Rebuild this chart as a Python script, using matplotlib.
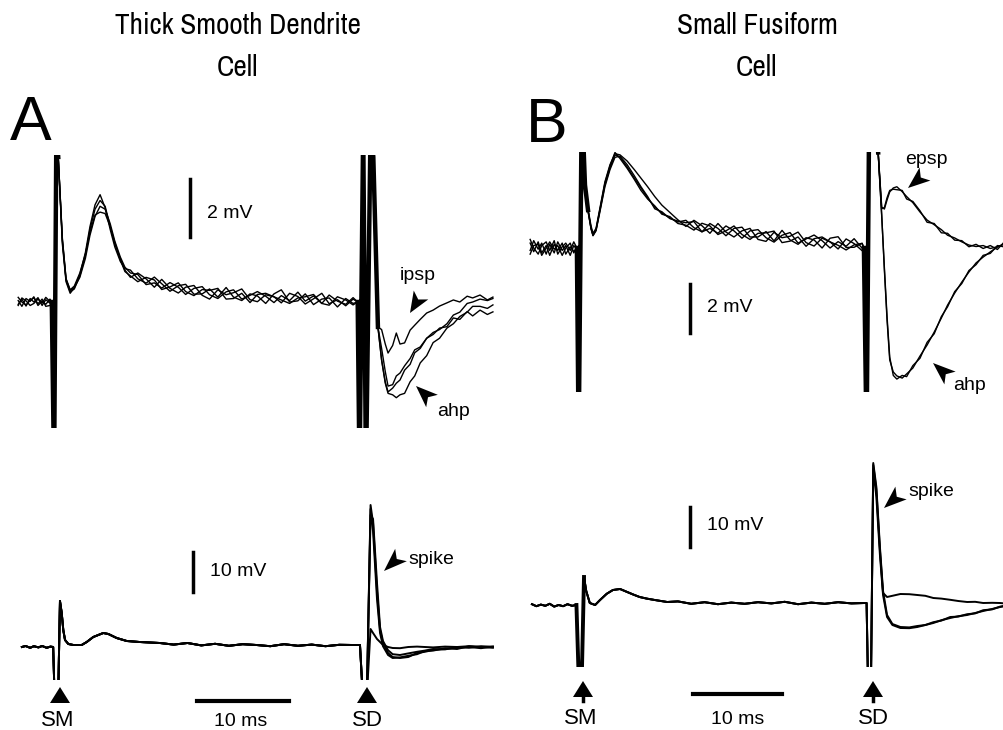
import numpy as np
import matplotlib.pyplot as plt
from matplotlib.patches import Polygon

W, H = 1004, 730

# ---------------- panel A, upper traces (time ms, voltage mV) ----------------
a_top_pre_t = [-4.0, -3.6, -3.15, -2.7, -2.3, -1.85, -1.4, -1.0, -0.55, -0.35]
a_top_pre_v = [
    [0.05, -0.15, 0.12, 0.02, 0.18, -0.12, 0.03, -0.08, 0.10, 0.0],
    [-0.08, 0.10, -0.14, 0.12, 0.0, 0.15, -0.12, 0.08, -0.04, 0.0],
    [0.16, 0.0, -0.10, 0.06, 0.14, -0.06, 0.10, -0.15, -0.12, 0.0],
    [-0.12, 0.14, 0.04, -0.12, -0.05, 0.10, -0.04, 0.16, 0.02, 0.0],
]
a_top_sm_t = [-0.1, 0.15]
a_top_sm_v = [-6.0, 6.0]
a_top_early_t = [0.35, 0.8, 1.2, 1.65, 2.1, 2.7, 3.3, 3.8, 4.35, 4.9, 5.45, 6.0, 6.5, 7.1, 7.6]
a_top_early_v = [
    [5.0, 2.2, 0.8, 0.4, 0.5, 0.95, 1.7, 2.6, 3.35, 3.7, 3.25, 2.5, 1.9, 1.4, 1.15],
    [5.0, 2.1, 0.75, 0.35, 0.45, 0.9, 1.6, 2.5, 3.2, 3.5, 3.3, 2.6, 2.0, 1.5, 1.1],
    [5.0, 2.0, 0.7, 0.3, 0.5, 0.85, 1.5, 2.3, 2.95, 3.3, 3.2, 2.7, 2.1, 1.55, 1.2],
    [5.0, 2.15, 0.8, 0.42, 0.55, 1.0, 1.65, 2.4, 3.0, 3.1, 3.05, 2.6, 2.05, 1.45, 1.05],
]
a_top_decay_t = [8.2, 9.0, 9.9, 10.8, 11.6, 12.5, 13.4, 14.2, 15.1, 16.0, 16.8, 17.7, 18.6, 19.4,
                 20.3, 21.2, 22.0, 22.9, 23.8, 24.6, 25.5, 26.4, 27.2, 28.1, 29.0, 29.8, 30.7,
                 31.6, 32.4]
a_top_decay_v = [
    [1.10, 0.80, 0.65, 0.86, 0.63, 0.37, 0.56, 0.61, 0.27, 0.28, 0.45, 0.17, 0.50, 0.17, 0.05,
     0.28, 0.21, -0.05, 0.28, 0.42, 0.0, 0.04, 0.28, -0.09, 0.10, 0.14, -0.17, 0.12, -0.05],
    [0.85, 1.0, 0.80, 0.51, 0.78, 0.47, 0.31, 0.51, 0.57, 0.23, 0.10, 0.42, 0.25, 0.32, 0.45,
     0.08, 0.01, 0.25, 0.18, -0.03, 0.30, 0.19, -0.07, 0.11, 0.30, -0.06, 0.08, -0.13, 0.10],
    [1.0, 0.95, 0.60, 0.66, 0.48, 0.67, 0.51, 0.26, 0.47, 0.53, 0.25, 0.12, 0.35, 0.42, 0.10,
     0.23, 0.36, 0.20, -0.02, 0.22, 0.05, 0.34, 0.03, 0.21, -0.05, -0.11, 0.18, 0.07, -0.10],
    [0.90, 0.70, 0.85, 0.76, 0.43, 0.52, 0.66, 0.36, 0.22, 0.43, 0.40, 0.47, 0.10, 0.12, 0.30,
     -0.02, 0.26, 0.30, 0.18, 0.07, -0.05, 0.14, 0.18, 0.26, -0.05, 0.24, 0.03, -0.08, 0.15],
]
a_top_sd_t = [32.9, 33.1, 33.5, 33.8, 34.3, 34.6, 35.1]
a_top_sd_v = [0.0, -6.0, 6.0, -6.0, 6.0, 5.0, -0.86]
a_top_post_t = [35.5, 35.9, 36.2, 36.7, 37.1, 37.5, 38.0, 38.6, 39.1, 39.7, 40.4, 41.1, 41.8,
                42.6, 43.3, 44.0, 44.8, 45.4, 46.2, 47.0, 47.6]
a_top_post_v = [
    [-0.95, -1.45, -1.76, -1.5, -1.07, -1.45, -1.41, -0.97, -0.8, -0.6, -0.38, -0.28, -0.14,
     -0.03, 0.07, 0.0, 0.2, 0.14, 0.24, 0.07, 0.17],
    [-2.0, -2.76, -3.1, -2.97, -2.8, -2.69, -2.35, -2.15, -1.75, -1.6, -1.25, -1.12, -0.9,
     -0.85, -0.55, -0.6, -0.33, -0.48, -0.28, -0.43, -0.34],
    [-2.0, -2.8, -3.15, -3.2, -3.3, -3.2, -3.15, -2.75, -2.55, -2.1, -1.85, -1.4, -1.25, -0.9,
     -0.75, -0.5, -0.35, -0.15, -0.15, -0.22, -0.1],
    [-1.6, -2.4, -2.9, -2.85, -2.55, -2.45, -2.2, -1.95, -1.65, -1.55, -1.25, -1.05, -0.95, -0.75,
     -0.45, -0.35, -0.05, 0.0, 0.1, 0.05, 0.12],
]

# ---------------- panel A, lower traces ----------------
a_bot_pre_t = [-3.6, -3.2, -2.7, -2.3, -1.8, -1.4, -0.9, -0.5, -0.2]
a_bot_pre_v = [0.0, 0.25, -0.2, 0.2, -0.1, 0.25, -0.2, 0.1, 0.0]
a_bot_sm_t = [-0.05, 0.35]
a_bot_sm_v = [-12.0, -12.0]
a_bot_early_t = [0.54, 0.73, 0.9, 1.09, 1.45, 2.0, 2.9, 3.45, 4.16, 5.25, 5.8, 6.7, 7.8, 9.2, 11.4]
a_bot_early_v = [11.5, 8.5, 4.25, 1.75, 0.75, 0.5, 0.5, 1.25, 2.5, 3.5, 3.25, 2.25, 1.5, 1.25, 1.0]
a_bot_mid_t = [12.9, 14.4, 15.9, 17.4, 18.9, 20.4, 21.9, 23.4, 24.9, 26.4, 27.9, 29.4, 30.9, 32.4]
a_bot_mid_v = [0.6, 1.0, 0.4, 0.8, 0.3, 0.7, 0.5, 0.2, 0.7, 0.3, 0.6, 0.2, 0.55, 0.5]
a_bot_sd_t = [33.15, 33.45, 33.9]
a_bot_sd_v = [0.5, -12.0, -12.0]
a_bot_post_t = [34.3, 34.57, 35.0, 35.33, 35.65, 36.2, 36.7, 37.5, 38.4, 39.35, 40.2, 41.1,
                42.4, 43.7, 45.0, 46.3, 47.6]
a_bot_post_v = [
    [35.5, 31.0, 14.0, 4.25, 1.0, -1.5, -2.5, -2.75, -2.5, -1.5, -1.2, -0.75, -0.5, -0.2, 0.0, -0.3, 0.1],
    [34.5, 29.0, 12.0, 3.5, 0.2, -2.0, -2.75, -2.6, -2.2, -1.8, -1.0, -0.9, -0.3, -0.5, 0.2, 0.0, -0.2],
    [33.0, 32.0, 16.0, 5.0, 1.5, -0.8, -1.8, -2.0, -1.6, -1.2, -0.9, -0.5, -0.6, 0.0, -0.2, 0.2, 0.0],
    [4.5, 3.5, 2.0, 1.25, 0.5, 0.0, -0.25, -0.3, 0.0, 0.1, 0.0, -0.1, 0.1, 0.0, 0.2, 0.0, 0.1],
]

# ---------------- panel B, upper traces ----------------
b_top_pre_t = [-5.6, -5.2, -4.7, -4.3, -3.8, -3.4, -2.9, -2.5, -2.0, -1.6, -1.1, -0.7, -0.35]
b_top_pre_v = [
    [0.2, -0.15, 0.25, -0.2, 0.1, -0.3, 0.15, -0.1, 0.2, -0.25, 0.05, -0.15, 0.0],
    [-0.1, 0.3, -0.05, 0.2, -0.25, 0.15, -0.2, 0.25, -0.1, 0.1, -0.3, 0.1, -0.05],
    [0.35, 0.0, -0.25, 0.1, 0.25, -0.1, 0.3, -0.25, 0.05, 0.2, -0.1, 0.25, 0.0],
    [-0.25, 0.1, 0.15, -0.3, 0.0, 0.25, -0.05, 0.1, -0.3, 0.0, 0.2, -0.2, 0.05],
]
b_top_sm_t = [-0.15, 0.2]
b_top_sm_v = [-8.0, 6.0]
b_top_early_t = [0.56, 0.9, 1.24, 1.46, 1.8, 2.25, 2.8, 3.37, 3.93, 4.5, 5.3, 6.1, 6.85, 7.6,
                 8.4, 9.2, 10.1, 11.0]
b_top_early_v = [
    [2.57, 1.55, 0.82, 0.53, 0.73, 1.55, 2.57, 3.27, 3.8, 3.71, 3.31, 2.86, 2.45, 2.04, 1.67, 1.43, 1.22, 1.06],
    [2.6, 1.6, 0.9, 0.6, 0.8, 1.65, 2.7, 3.4, 3.85, 3.8, 3.55, 3.2, 2.85, 2.5, 2.1, 1.75, 1.45, 1.15],
    [2.5, 1.5, 0.78, 0.5, 0.7, 1.5, 2.5, 3.2, 3.7, 3.75, 3.4, 2.95, 2.5, 2.1, 1.6, 1.48, 1.2, 1.1],
    [2.55, 1.52, 0.8, 0.52, 0.75, 1.6, 2.65, 3.35, 3.9, 3.65, 3.25, 2.8, 2.35, 2.0, 1.72, 1.38, 1.28, 1.0],
]
b_top_decay_t = [11.9, 12.8, 13.7, 14.6, 15.5, 16.4, 17.3, 18.2, 19.1, 20.0, 20.9, 21.8, 22.7,
                 23.6, 24.5, 25.4, 26.3, 27.2, 28.1, 29.0, 29.9, 30.8, 31.7]
b_top_decay_v = [
    [1.13, 0.83, 0.66, 1.0, 0.80, 0.50, 0.80, 0.85, 0.45, 0.45, 0.67, 0.29, 0.72, 0.33, 0.15,
     0.42, 0.33, 0.0, 0.40, 0.46, 0.02, 0.03, 0.19],
    [0.88, 1.13, 0.91, 0.60, 1.0, 0.65, 0.45, 0.70, 0.80, 0.35, 0.27, 0.64, 0.42, 0.48, 0.65,
     0.22, 0.08, 0.40, 0.25, -0.04, 0.37, 0.18, -0.11],
    [1.03, 1.08, 0.66, 0.80, 0.60, 0.90, 0.70, 0.40, 0.70, 0.75, 0.42, 0.24, 0.52, 0.63, 0.20,
     0.37, 0.53, 0.30, 0.0, 0.26, 0.07, 0.38, -0.01],
    [0.93, 0.73, 1.01, 0.90, 0.55, 0.70, 0.90, 0.55, 0.35, 0.60, 0.62, 0.69, 0.22, 0.28, 0.45,
     0.07, 0.38, 0.45, 0.25, 0.11, -0.08, 0.13, 0.19],
]
b_top_sd_t = [31.9, 32.2, 32.5, 33.2, 33.5]
b_top_sd_v = [0.0, -8.0, 6.0, 6.0, 3.9]
b_top_post_t = [33.9, 34.2, 34.5, 34.8, 35.2, 35.6, 36.2, 36.7, 37.4, 38.2, 39.0, 39.8, 40.6,
                41.3, 42.1, 42.9, 43.7, 44.5, 45.3, 46.1, 46.9, 47.6]
b_top_post_v = [
    [1.67, 1.59, 1.96, 2.29, 2.45, 2.5, 2.3, 2.1, 1.85, 1.47, 1.14, 0.95, 0.75, 0.52, 0.41, 0.25,
     0.12, 0.06, 0.1, -0.02, 0.05, 0.15],
    [1.6, 1.65, 2.05, 2.35, 2.4, 2.38, 2.35, 2.0, 1.9, 1.52, 1.05, 1.0, 0.62, 0.6, 0.32, 0.3,
     0.05, 0.15, -0.02, 0.1, -0.06, 0.22],
    [1.35, -0.9, -2.94, -4.57, -5.06, -5.22, -5.31, -5.14, -4.9, -4.41, -3.96, -3.43, -2.86,
     -2.33, -1.84, -1.39, -0.98, -0.61, -0.37, -0.16, 0.04, 0.16],
    [1.3, -0.8, -2.8, -4.45, -5.2, -5.35, -5.2, -5.25, -4.8, -4.5, -3.85, -3.5, -2.8, -2.4,
     -1.78, -1.45, -0.92, -0.68, -0.3, -0.22, 0.1, 0.05],
]

# ---------------- panel B, lower traces ----------------
b_bot_pre_t = [-5.4, -4.9, -4.4, -3.9, -3.4, -2.9, -2.4, -1.9, -1.4, -0.9, -0.4]
b_bot_pre_v = [0.2, -0.3, 0.1, -0.2, 0.3, -0.4, 0.0, -0.3, 0.2, -0.2, 0.0]
b_bot_sm_t = [-0.15, 0.2]
b_bot_sm_v = [-18.0, -18.0]
b_bot_early_t = [0.45, 0.7, 1.1, 1.7, 2.25, 3.0, 3.7, 4.5, 5.3, 6.0, 6.7, 7.5, 8.4, 9.8]
b_bot_early_v = [7.0, 3.5, 0.5, 0.0, 1.25, 2.8, 3.75, 4.0, 3.25, 2.6, 2.0, 1.6, 1.25, 0.75]
b_bot_mid_t = [11.0, 12.5, 14.0, 15.5, 17.0, 18.5, 20.0, 21.5, 23.0, 24.5, 26.0, 27.5, 29.0, 30.5, 32.0]
b_bot_mid_v = [0.9, 0.3, 0.7, 0.2, 0.6, 0.3, 0.7, 0.4, 0.8, 0.2, 0.6, 0.3, 0.7, 0.4, 0.5]
b_bot_sd_t = [32.2, 32.35, 32.7]
b_bot_sd_v = [0.5, -18.0, -18.0]
b_bot_post_t = [32.95, 33.3, 33.7, 34.05, 34.5, 35.1, 36.0, 37.0, 37.9, 38.8, 39.7, 40.6, 41.6,
                42.5, 43.5, 44.4, 45.3, 46.3, 47.2, 47.7]
b_bot_post_v = [
    [35.0, 28.75, 13.75, 3.0, 2.0, 2.3, 2.75, 2.7, 2.5, 2.3, 1.75, 1.6, 1.3, 1.0, 0.75, 0.8, 0.5, 0.55, 0.5, 0.4],
    [34.0, 27.0, 12.5, 2.5, -3.0, -5.0, -5.75, -5.8, -5.5, -5.0, -4.5, -3.8, -3.25, -2.8, -2.5, -2.0, -1.5, -1.0, -0.5, -0.3],
    [35.5, 29.5, 14.5, 3.5, -2.5, -4.75, -5.5, -5.6, -5.25, -5.0, -4.3, -3.9, -3.0, -2.9, -2.3, -2.1, -1.3, -1.1, -0.4, -0.2],
]

fig = plt.figure(figsize=(W / 100, H / 100), dpi=100)
fig.patch.set_facecolor('white')


def panel(x0, x1, ytop, ybot, t0, px_ms, base, px_mv):
    ax = fig.add_axes([x0 / W, 1 - ybot / H, (x1 - x0) / W, (ybot - ytop) / H])
    ax.set_xlim((x0 - t0) / px_ms, (x1 - t0) / px_ms)
    ax.set_ylim((base - ybot) / px_mv, (base - ytop) / px_mv)
    ax.axis('off')
    ax.patch.set_alpha(0)
    return ax


ax_at = panel(0, 500, 155, 428, 55, 9.2, 302, 29)
ax_ab = panel(0, 500, 470, 680, 55, 9.2, 647, 4)
ax_bt = panel(500, 1004, 152, 392, 580, 8.9, 248, 24.5)
ax_bb = panel(500, 1004, 440, 667, 580, 8.9, 605, 4)

# upper traces A
for i in range(4):
    t = a_top_pre_t + a_top_sm_t + a_top_early_t + a_top_decay_t + a_top_sd_t + a_top_post_t
    v = a_top_pre_v[i] + a_top_sm_v + a_top_early_v[i] + a_top_decay_v[i] + a_top_sd_v + a_top_post_v[i]
    ax_at.plot(t, v, color='k', lw=1.0)
ax_at.plot(a_top_pre_t[-1:] + a_top_sm_t + a_top_early_t[:1], [0.0] + a_top_sm_v + [5.0], color='k', lw=3.2)
ax_at.plot(a_top_sd_t, a_top_sd_v, color='k', lw=3.2)

# upper traces B
for i in range(4):
    t = b_top_pre_t + b_top_sm_t + b_top_early_t + b_top_decay_t + b_top_sd_t + b_top_post_t
    v = b_top_pre_v[i] + b_top_sm_v + b_top_early_v[i] + b_top_decay_v[i] + b_top_sd_v + b_top_post_v[i]
    ax_bt.plot(t, v, color='k', lw=1.0)
ax_bt.plot(b_top_pre_t[-1:] + b_top_sm_t + b_top_early_t[:2], [0.0] + b_top_sm_v + b_top_early_v[0][:2], color='k', lw=3.2)
ax_bt.plot(b_top_sd_t, b_top_sd_v, color='k', lw=3.2)

# lower traces A
for i in range(4):
    t = a_bot_pre_t + a_bot_sm_t + a_bot_early_t + a_bot_mid_t + a_bot_sd_t + a_bot_post_t
    v = a_bot_pre_v + a_bot_sm_v + a_bot_early_v + a_bot_mid_v + a_bot_sd_v + a_bot_post_v[i]
    ax_ab.plot(t, v, color='k', lw=1.4)

# lower traces B
for i in range(3):
    t = b_bot_pre_t + b_bot_sm_t + b_bot_early_t + b_bot_mid_t + b_bot_sd_t + b_bot_post_t
    v = b_bot_pre_v + b_bot_sm_v + b_bot_early_v + b_bot_mid_v + b_bot_sd_v + b_bot_post_v[i]
    ax_bb.plot(t, v, color='k', lw=1.4)
ax_bb.plot(b_bot_pre_t[-1:] + b_bot_sm_t + b_bot_early_t[:1], [0.0] + b_bot_sm_v + b_bot_early_v[:1], color='k', lw=2.8)

# scale bars (mV vertical, ms horizontal)
ax_at.plot([14.67, 14.67], [2.24, 4.24], color='k', lw=2.5, clip_on=False)
ax_ab.plot([15.0, 15.0], [13.75, 23.75], color='k', lw=2.5, clip_on=False)
ax_ab.plot([15.4, 25.4], [-13.5, -13.5], color='k', lw=3, clip_on=False)
ax_bt.plot([12.36, 12.36], [-3.47, -1.47], color='k', lw=2.5, clip_on=False)
ax_bb.plot([12.36, 12.36], [14.5, 24.5], color='k', lw=2.5, clip_on=False)
ax_bb.plot([12.7, 22.7], [-22.25, -22.25], color='k', lw=3, clip_on=False)

# overlay in pixel coordinates for text and arrowheads
ov = fig.add_axes([0, 0, 1, 1], zorder=10)
ov.set_xlim(0, W)
ov.set_ylim(H, 0)
ov.axis('off')
ov.patch.set_alpha(0)

narrow = ['Archivo Narrow', 'Liberation Sans']
sans = ['Liberation Sans', 'DejaVu Sans']

ov.text(238, 26, 'Thick Smooth Dendrite', ha='center', va='center', fontsize=21, family=narrow)
ov.text(238, 67, 'Cell', ha='center', va='center', fontsize=21, family=narrow)
ov.text(757, 26, 'Small Fusiform', ha='center', va='center', fontsize=21, family=narrow)
ov.text(757, 67, 'Cell', ha='center', va='center', fontsize=21, family=narrow)
ov.text(10, 140, 'A', ha='left', va='baseline', fontsize=45, family=sans)
ov.text(526, 142, 'B', ha='left', va='baseline', fontsize=45, family=sans)

labels = [
    (207, 213, '2 mV'), (210, 571, '10 mV'), (707, 308, '2 mV'), (707, 526, '10 mV'),
    (400, 276, 'ipsp'), (437, 411, 'ahp'), (905, 160, 'epsp'), (953, 386, 'ahp'),
    (408, 560, 'spike'), (908, 491, 'spike'),
]
for x, y, s in labels:
    ov.text(x, y, s, ha='left', va='center', fontsize=14, family=sans)

for x, y, s in [(58, 721, 'SM'), (367, 721, 'SD'), (241, 721, '10 ms'),
                (581, 718, 'SM'), (873, 718, 'SD'), (738, 720, '10 ms')]:
    ov.text(x, y, s, ha='center', va='center', fontsize=16 if s != '10 ms' else 14, family=sans)


def head(tip, base, width=17):
    tx, ty = tip
    bx, by = base
    dx, dy = tx - bx, ty - by
    L = np.hypot(dx, dy)
    nx, ny = -dy / L * width / 2, dx / L * width / 2
    notch = (bx + 0.25 * dx, by + 0.25 * dy)
    ov.add_patch(Polygon([(tx, ty), (bx + nx, by + ny), notch, (bx - nx, by - ny)],
                         closed=True, color='k', lw=0))


head((410, 313), (421, 295))
head((416, 386), (432, 401))
head((384, 571), (401, 555))
head((908, 188), (925, 174))
head((933, 363), (950, 378))
head((884, 508), (901, 493))


def stim(x, y, stem=False):
    ov.add_patch(Polygon([(x, y), (x - 10, y + 16), (x + 10, y + 16)], closed=True, color='k', lw=0))
    if stem:
        ov.plot([x, x], [y + 14, y + 20], color='k', lw=2.5)


stim(60, 687)
stim(367, 687)
stim(583, 681, stem=True)
stim(873, 681, stem=True)

fig.savefig('out.png', dpi=100, facecolor='white')
